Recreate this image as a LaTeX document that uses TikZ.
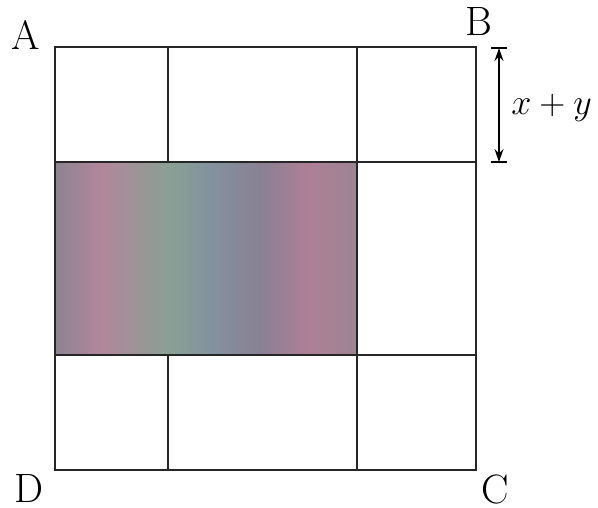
\documentclass[tikz,border=0pt]{standalone}
\usetikzlibrary{arrows.meta}
\definecolor{sA}{RGB}{140,132,146}
\definecolor{sB}{RGB}{178,134,154}
\definecolor{sC}{RGB}{138,160,148}
\definecolor{sD}{RGB}{130,146,158}
\definecolor{sE}{RGB}{138,128,148}
\definecolor{sF}{RGB}{174,128,150}
\definecolor{sG}{RGB}{156,132,148}
\pgfdeclarehorizontalshading{scanshade}{100bp}{color(0bp)=(sA); color(25bp)=(sA); color(32.5bp)=(sB); color(44bp)=(sC); color(50.7bp)=(sD); color(59bp)=(sE); color(67bp)=(sF); color(75bp)=(sG); color(100bp)=(sG)}
\tikzset{
  grid line/.style={line width=1.8pt, draw=black!85},
  corner label/.style={font=\fontsize{41}{48}\selectfont, inner sep=0pt},
  dim label/.style={font=\fontsize{24.88}{30}\selectfont, inner sep=0pt, anchor=west, scale=1.45, transform shape},
  dim arrow/.style={line width=1.4pt, {Stealth[length=13pt,width=9pt]}-{Stealth[length=13pt,width=9pt]}},
  tick/.style={line width=1.4pt}
}
\begin{document}
\begin{tikzpicture}[x=1pt,y=-1pt]
\useasboundingbox (0,0) rectangle (598,508);
% corners and grid coordinates
\coordinate (A) at (55,47);
\coordinate (B) at (476,47);
\coordinate (C) at (476,470);
\coordinate (D) at (55,470);
\coordinate (v1t) at (168,47);
\coordinate (v1m) at (168,162);
\coordinate (v1n) at (168,355);
\coordinate (v1b) at (168,470);
\coordinate (v2t) at (357,47);
\coordinate (v2b) at (357,470);
\coordinate (h1l) at (55,162);
\coordinate (h1r) at (476,162);
\coordinate (h2l) at (55,355);
\coordinate (h2r) at (476,355);
\coordinate (sh) at (357,355);
% shaded rectangle
\path[shading=scanshade] (h1l) rectangle (sh);
% grid
\draw[grid line] (A) -- (B) -- (C) -- (D) -- cycle;
\draw[grid line] (v1t) -- (v1m);
\draw[grid line] (v1n) -- (v1b);
\draw[grid line] (v2t) -- (v2b);
\draw[grid line] (h1l) -- (h1r);
\draw[grid line] (h2l) -- (h2r);
% labels
\node[corner label] (lA) at (26,35) {A};
\node[corner label] (lB) at (479,22) {B};
\node[corner label] (lC) at (495,489) {C};
\node[corner label] (lD) at (29,488) {D};
% dimension
\coordinate (dt) at (499,48);
\coordinate (db) at (499,162);
\draw[tick] (491,48) -- (507,48);
\draw[tick] (491,162) -- (507,162);
\draw[dim arrow] (dt) -- (db);
\node[dim label] (xy) at (511,108) {$x+y$};
\end{tikzpicture}
\end{document}
